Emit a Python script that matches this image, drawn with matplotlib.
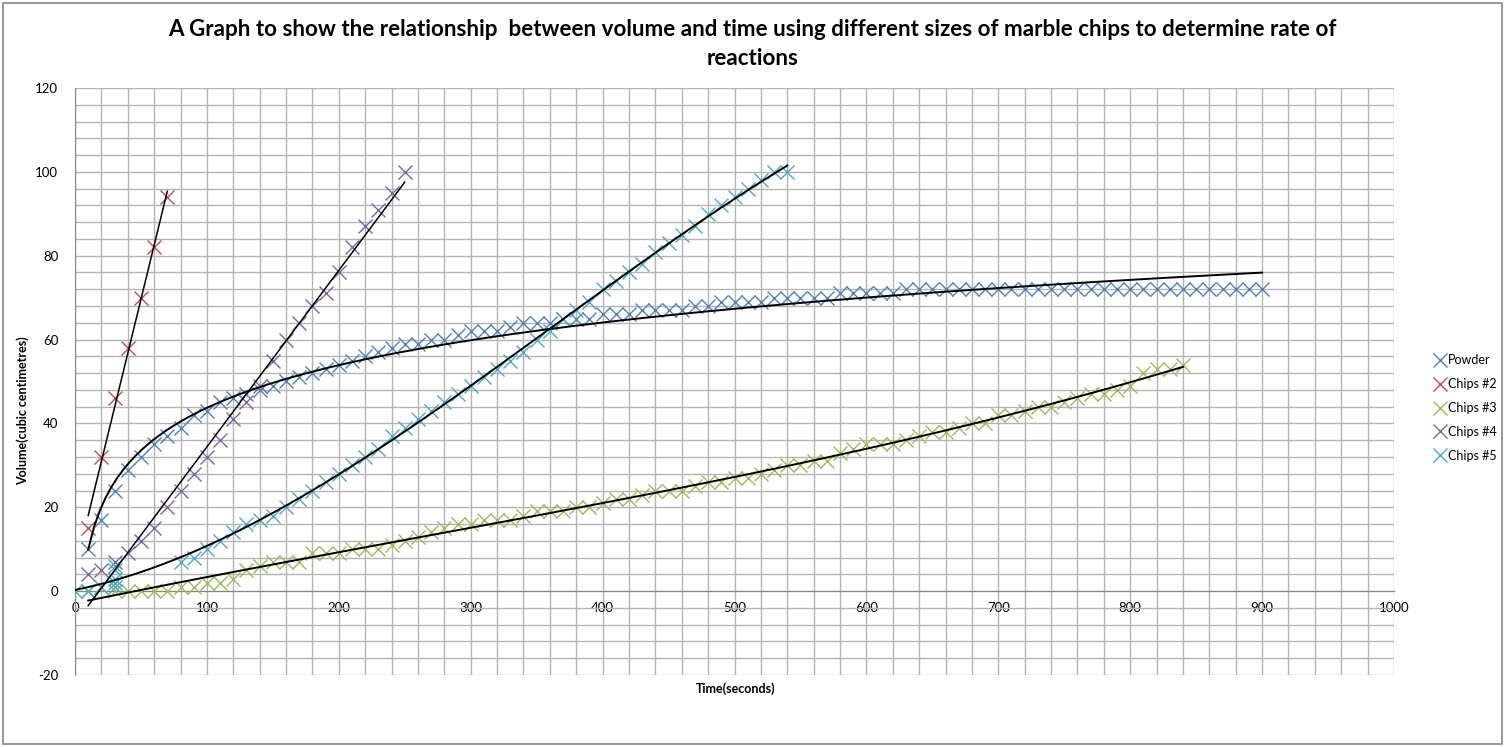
import numpy as np
import matplotlib
matplotlib.use("Agg")
import matplotlib.pyplot as plt
from matplotlib.patches import Rectangle
from matplotlib.ticker import MultipleLocator

plt.rcParams['font.family'] = ['Lato', 'DejaVu Sans']
plt.rcParams['axes.unicode_minus'] = False

# ---- data (time in s, volume in cm3) ----
t_powder = np.arange(10, 910, 10)
v_powder = [10, 17, 24, 29, 32, 35, 37, 39, 42, 43,
            45, 46, 47, 48, 49, 50, 51, 52, 53, 54,
            55, 56, 57, 58, 59, 59, 60, 60, 61, 62,
            62, 62, 63, 64, 64, 64, 65, 65, 65, 66,
            66, 66, 67, 67, 67, 67, 68, 68, 69, 69,
            69, 69, 70, 70, 70, 70, 70, 71, 71, 71,
            71, 71] + [72] * 28

t_chips2 = [10, 20, 30, 40, 50, 60, 70]
v_chips2 = [15, 32, 46, 58, 70, 82, 94]

t_chips3 = np.arange(10, 850, 10)
v_chips3 = [0, 1, 0, 0, 0, 0, 0, 1, 1, 2,
            2, 3, 5, 6, 7, 7, 7, 9, 9, 9,
            10, 10, 10, 11, 12, 13, 14, 15, 16, 16,
            17, 17, 17, 18, 19, 19, 19, 20, 20, 21,
            22, 22, 23, 24, 24, 24, 25, 26, 26, 27,
            27, 28, 29, 30, 30, 31, 31, 33, 34, 35,
            35, 35, 36, 37, 38, 38, 39, 40, 40, 42,
            42, 43, 44, 44, 45, 46, 47, 47, 48, 49,
            52, 53, 53, 54]

t_chips4 = np.arange(10, 260, 10)
v_chips4 = [4, 5, 7, 9, 12, 15, 20, 24, 28, 32,
            36, 41, 45, 49, 55, 60, 64, 68, 71, 76,
            82, 87, 91, 95, 100]

t_chips5 = [0, 10, 20, 30, 30, 30, 30, 30] + list(range(80, 550, 10))
v_chips5 = [0, 0, 1, 1, 2, 3, 5, 6,
            7, 8, 10, 12, 14, 16, 17, 18, 20, 22,
            24, 26, 28, 30, 32, 34, 37, 39, 41, 43,
            45, 47, 49, 51, 53, 55, 57, 60, 62, 65,
            67, 69, 72, 74, 76, 78, 81, 83, 85, 87,
            90, 92, 94, 96, 98, 100, 100]

names = ['Powder', 'Chips #2', 'Chips #3', 'Chips #4', 'Chips #5']
colors = ['#4F81BD', '#C0504D', '#9BBB59', '#8064A2', '#4BACC6']
# trendline type per series, as in the excel chart
trends = ['log', 'linear', 'poly', 'linear', 'poly']

series = [(t_powder, v_powder), (t_chips2, v_chips2), (t_chips3, v_chips3),
          (t_chips4, v_chips4), (t_chips5, v_chips5)]

fig = plt.figure(figsize=(15.05, 7.47), dpi=100)
ax = fig.add_axes([75 / 1505, 1 - 675 / 747, 1319 / 1505, 587 / 747])

for (t, v), name, c in zip(series, names, colors):
    ax.plot(t, v, linestyle='none', marker='x', markersize=10,
            markeredgewidth=1.0, color=c, label=name, zorder=3)

for (t, v), kind in zip(series, trends):
    t = np.asarray(t, dtype=float)
    v = np.asarray(v, dtype=float)
    xs = np.linspace(t.min(), t.max(), 200)
    if kind == 'log':
        a, b = np.polyfit(np.log(t), v, 1)
        ys = a * np.log(xs) + b
        lw = 1.4
    elif kind == 'linear':
        ys = np.polyval(np.polyfit(t, v, 1), xs)
        lw = 1.1
    else:
        ys = np.polyval(np.polyfit(t, v, 3), xs)
        lw = 1.4
    ax.plot(xs, ys, color='black', linewidth=lw, zorder=4)

ax.set_xlim(0, 1000)
ax.set_ylim(-20, 120)
ax.xaxis.set_major_locator(MultipleLocator(100))
ax.xaxis.set_minor_locator(MultipleLocator(20))
ax.yaxis.set_major_locator(MultipleLocator(20))
ax.yaxis.set_minor_locator(MultipleLocator(4))
ax.grid(True, which='both', color='#B3B3B3', linewidth=1.0, zorder=0)
ax.set_axisbelow(True)

for s in ['top', 'right']:
    ax.spines[s].set_visible(False)
ax.spines['bottom'].set_position(('data', 0))
ax.spines['bottom'].set_color('#868686')
ax.spines['left'].set_color('#868686')
ax.tick_params(which='both', length=0, labelsize=9.5, colors='black')
ax.tick_params(axis='x', pad=8)
ax.tick_params(axis='y', pad=12)

ax.set_xlabel('Time(seconds)', fontsize=9, fontweight='bold')
ax.xaxis.set_label_coords(0.501, -0.012)
ax.set_ylabel('Volume(cubic centimetres)', fontsize=9, fontweight='bold')
ax.yaxis.set_label_coords(-0.035, 0.45)

fig.suptitle('A Graph to show the relationship  between volume and time using '
             'different sizes of marble chips to determine rate of\nreactions',
             x=0.5, y=0.974, fontsize=16.1, fontweight='bold', linespacing=1.45)

ax.legend(loc='center left', bbox_to_anchor=(1.022, 0.455), frameon=False,
          fontsize=9, handlelength=0.9, handletextpad=0.2, labelspacing=0.95)

fig.patches.append(Rectangle((0.002, 0.004), 0.996, 0.992, transform=fig.transFigure,
                             fill=False, edgecolor='#868686', linewidth=1.2))

fig.savefig('out.png', dpi=100)
